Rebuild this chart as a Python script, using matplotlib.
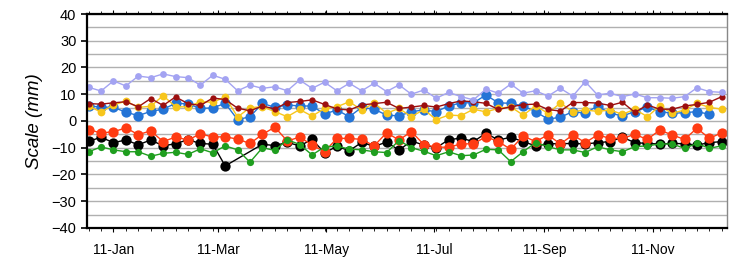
import numpy as np
import pandas as pd
import matplotlib
matplotlib.use("Agg")
import matplotlib.pyplot as plt
import matplotlib.dates as mdates

plt.rcParams['font.family'] = ['Liberation Sans', 'DejaVu Sans']

# weekly samples, 2011
dates = pd.date_range("2010-12-28", periods=52, freq="7D")

lavender = [12.6, 11.2, 15.0, 13.1, 16.8, 16.2, 17.6, 16.6, 16.2, 13.4, 17.1, 15.6,
            11.3, 13.4, 12.2, 12.8, 11.3, 15.3, 12.2, 14.5, 11.3, 14.1, 11.3, 14.1,
            11.0, 13.5, 10.0, 11.6, 8.5, 10.7, 9.1, 7.9, 11.9, 10.4, 13.8, 10.4,
            11.3, 9.3, 12.2, 9.3, 14.7, 9.7, 10.4, 9.1, 10.1, 8.7, 8.7, 8.5,
            9.1, 12.4, 11.0, 10.7]
darkred = [6.5, 6.3, 6.8, 7.2, 5.3, 8.4, 5.8, 9.0, 6.5, 5.8, 8.6, 8.0,
           4.8, 3.8, 5.6, 4.5, 6.9, 7.3, 7.9, 6.2, 4.5, 4.1, 6.0, 6.5,
           7.0, 4.7, 5.2, 5.8, 5.2, 6.5, 7.5, 7.2, 6.6, 4.3, 5.3, 6.1,
           6.3, 4.3, 3.7, 6.9, 6.9, 6.7, 5.8, 7.0, 3.2, 6.0, 4.4, 4.4,
           5.6, 6.2, 7.0, 9.1]
yellow = [5.6, 3.3, 6.0, 7.4, 5.1, 5.5, 9.5, 5.3, 5.3, 7.2, 7.0, 9.0,
          1.5, 5.0, 5.3, 3.5, 1.6, 4.3, 1.8, 4.7, 5.3, 7.2, 4.1, 6.7,
          2.9, 4.7, 1.6, 4.3, 0.5, 2.2, 2.0, 4.4, 3.4, 4.7, 5.3, 2.2,
          5.6, 2.9, 6.7, 3.5, 4.1, 3.6, 4.1, 2.5, 4.4, 1.6, 5.6, 2.9,
          4.1, 6.6, 5.1, 4.4]
blue = [5.6, 5.2, 5.1, 3.3, 2.0, 3.6, 4.4, 6.6, 6.4, 4.7, 4.9, 6.6,
        0.5, 1.6, 6.6, 5.1, 6.0, 5.6, 5.6, 2.6, 4.1, 1.6, 5.1, 4.4,
        2.2, 1.9, 3.5, 4.1, 3.5, 5.6, 6.8, 6.8, 9.7, 6.8, 6.6, 5.6,
        3.5, 0.7, 1.4, 3.5, 2.9, 5.6, 2.9, 1.9, 3.5, 5.1, 3.5, 2.9,
        3.1, 3.5, 2.5, np.nan]
red = [-3.2, -4.5, -4.0, -2.6, -5.1, -3.7, -7.7, -6.0, -7.1, -4.8, -6.0, -5.9,
       -6.8, -8.4, -5.0, -2.3, -7.5, -6.0, -9.0, -11.5, -6.5, -6.5, -6.9, -9.3,
       -4.4, -7.1, -4.0, -8.8, -9.8, -9.8, -8.6, -8.5, -5.9, -7.7, -10.6, -5.6,
       -7.7, -5.2, -8.6, -5.2, -8.1, -5.2, -6.5, -6.5, -5.0, -6.9, -3.4, -5.2,
       -6.9, -2.7, -6.5, -4.4]
black = [-7.6, -6.1, -8.1, -7.1, -8.9, -7.1, -9.3, -8.5, -7.0, -8.4, -8.7, -16.8,
         np.nan, np.nan, -8.7, -9.2, -8.0, -9.3, -6.9, -11.9, -9.5, -11.1, -8.0, -9.5,
         -7.9, -10.9, -7.5, -9.0, -10.0, -7.0, -6.4, -7.7, -4.6, -7.1, -6.1, -7.7,
         -9.3, -8.5, -8.5, -8.4, -8.6, -8.1, -7.7, -6.1, -8.1, -8.4, -8.6, -8.4,
         -8.5, -9.0, -8.1, -7.7]
green = [-11.5, -9.7, -10.8, -11.5, -11.5, -13.2, -12.1, -11.7, -12.5, -10.4, -11.9, -9.3,
         -10.8, -15.4, -10.0, -11.0, -7.0, -8.8, -12.7, -9.7, -9.4, -10.5, -10.8, -11.5,
         -11.8, -7.3, -10.0, -11.3, -13.0, -11.5, -13.0, -12.7, -10.6, -10.8, -15.2, -11.5,
         -8.1, -9.6, -10.8, -10.8, -11.8, -9.6, -10.8, -11.5, -9.6, -9.3, -8.6, -8.6,
         -10.2, -8.4, -10.2, -9.3]

series = [
    (black, 'black', 7.4),
    (red, '#ff3b12', 7.4),
    (green, '#1f9e1f', 5.2),
    (blue, '#2474d6', 7.4),
    (yellow, '#f7c61c', 5.6),
    (darkred, '#9c0f0f', 4.5),
    (lavender, '#a3a3f2', 4.9),
]

fig = plt.figure(figsize=(7.3, 2.57), dpi=100)
ax = fig.add_axes([0.119, 0.113, 0.877, 0.8325])

for i in range(-40, 41, 5):
    ax.axhline(i, color='#b0b0b0', lw=1.0, zorder=0)

for vals, col, ms in series:
    y = np.array(vals, dtype=float)
    ok = ~np.isnan(y)
    ax.plot(dates[ok], y[ok], color=col, lw=1.0, marker='o', ms=ms,
            markeredgewidth=0, zorder=2)

ax.set_ylim(-40, 40)
ax.set_yticks(range(-40, 41, 10))
ax.set_xlim(pd.Timestamp("2010-12-27"), pd.Timestamp("2011-12-23"))
ax.xaxis.set_major_locator(mdates.MonthLocator(bymonth=[1, 3, 5, 7, 9, 11], bymonthday=11))
ax.xaxis.set_major_formatter(mdates.DateFormatter('%d-%b'))
ax.xaxis.set_minor_locator(mdates.WeekdayLocator(byweekday=mdates.TU))
ax.tick_params(axis='x', which='major', length=3, labelsize=10, pad=8, top=True)
ax.tick_params(axis='x', which='minor', length=2, top=True)
ax.tick_params(axis='y', length=4, labelsize=10.5, width=1.2)

ax.set_ylabel('Scale (mm)', fontsize=13.5, style='italic', labelpad=6)

for s in ['left', 'bottom', 'top']:
    ax.spines[s].set_linewidth(1.6)
ax.spines['right'].set_color('#888888')
ax.spines['right'].set_linewidth(1.0)

fig.savefig('out.png', dpi=100)
